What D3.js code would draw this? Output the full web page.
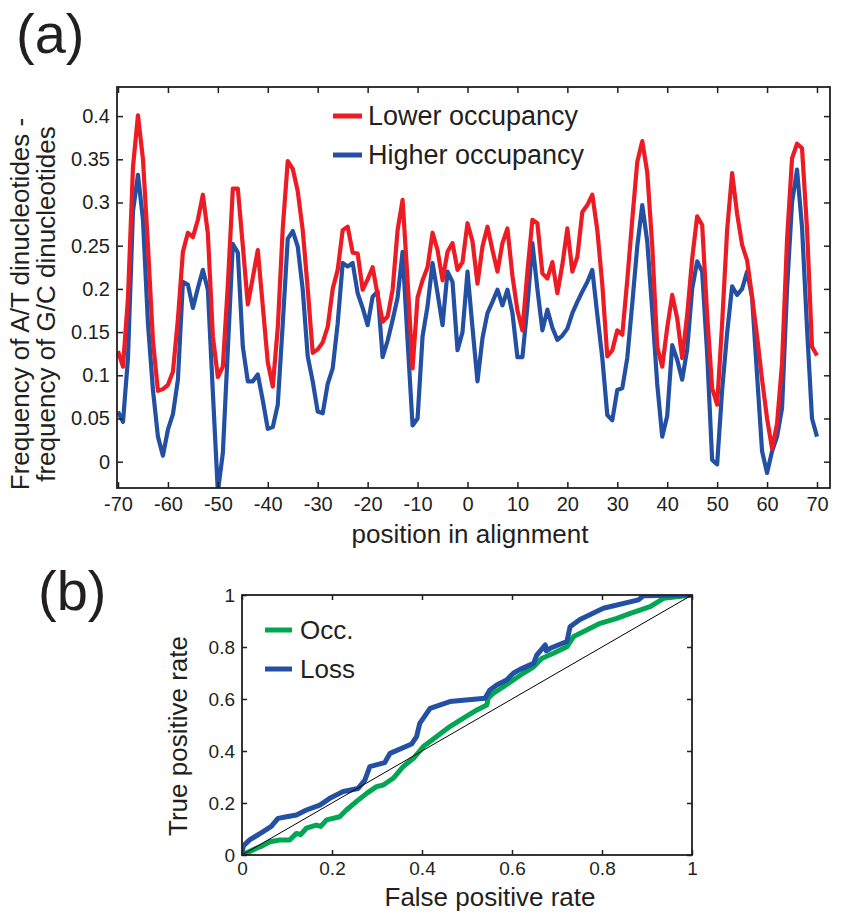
<!DOCTYPE html>
<html>
<head>
<meta charset="utf-8">
<script src="https://cdn.jsdelivr.net/npm/d3@7"></script>
<style>
  body { margin: 0; background: #fff; }
  svg text { font-family: "Liberation Sans", Arial, Helvetica, sans-serif; fill: #231f20; }
</style>
</head>
<body>
<div id="chart"></div>
<script>
// ---- panel (a) data: position in alignment -70..70 ----
var positions = d3.range(-70, 71);

var lowerOcc = [
  0.128, 0.110, 0.190, 0.341, 0.401, 0.350, 0.250, 0.140, 0.082, 0.084,
  0.089, 0.104, 0.165, 0.243, 0.265, 0.260, 0.280, 0.309, 0.264, 0.145,
  0.098, 0.110, 0.205, 0.316, 0.316, 0.250, 0.182, 0.213, 0.245, 0.180,
  0.115, 0.087, 0.155, 0.270, 0.348, 0.339, 0.313, 0.268, 0.200, 0.126,
  0.130, 0.138, 0.156, 0.200, 0.222, 0.268, 0.272, 0.242, 0.241, 0.199,
  0.211, 0.225, 0.193, 0.162, 0.168, 0.199, 0.268, 0.303, 0.210, 0.108,
  0.190, 0.210, 0.225, 0.265, 0.245, 0.210, 0.243, 0.253, 0.222, 0.231,
  0.276, 0.255, 0.206, 0.249, 0.272, 0.245, 0.220, 0.253, 0.270, 0.215,
  0.175, 0.152, 0.220, 0.280, 0.276, 0.218, 0.212, 0.231, 0.195, 0.228,
  0.270, 0.220, 0.237, 0.289, 0.297, 0.309, 0.268, 0.205, 0.122, 0.129,
  0.152, 0.147, 0.210, 0.280, 0.347, 0.371, 0.335, 0.250, 0.133, 0.110,
  0.155, 0.193, 0.166, 0.120, 0.170, 0.235, 0.284, 0.274, 0.170, 0.085,
  0.066, 0.160, 0.268, 0.334, 0.287, 0.251, 0.233, 0.191, 0.145, 0.095,
  0.050, 0.015, 0.044, 0.114, 0.257, 0.351, 0.368, 0.363, 0.270, 0.133,
  0.123
];

var higherOcc = [
  0.058, 0.046, 0.120, 0.290, 0.332, 0.280, 0.160, 0.083, 0.029, 0.007,
  0.037, 0.055, 0.095, 0.208, 0.205, 0.178, 0.201, 0.222, 0.199, 0.080,
  -0.035, 0.010, 0.130, 0.252, 0.242, 0.133, 0.093, 0.093, 0.101, 0.071,
  0.038, 0.040, 0.066, 0.160, 0.258, 0.267, 0.249, 0.199, 0.122, 0.093,
  0.058, 0.056, 0.090, 0.108, 0.160, 0.230, 0.226, 0.230, 0.195, 0.178,
  0.158, 0.191, 0.197, 0.121, 0.140, 0.164, 0.190, 0.243, 0.140, 0.042,
  0.050, 0.145, 0.180, 0.230, 0.195, 0.158, 0.220, 0.208, 0.129, 0.150,
  0.220, 0.155, 0.093, 0.143, 0.172, 0.185, 0.199, 0.181, 0.199, 0.172,
  0.121, 0.121, 0.180, 0.253, 0.200, 0.152, 0.176, 0.155, 0.141, 0.146,
  0.154, 0.172, 0.185, 0.197, 0.208, 0.222, 0.170, 0.120, 0.054, 0.048,
  0.083, 0.085, 0.120, 0.183, 0.249, 0.297, 0.255, 0.175, 0.090, 0.029,
  0.053, 0.135, 0.118, 0.095, 0.130, 0.200, 0.232, 0.220, 0.125, 0.002,
  -0.003, 0.083, 0.149, 0.203, 0.193, 0.200, 0.220, 0.190, 0.100, 0.012,
  -0.013, 0.012, 0.029, 0.062, 0.200, 0.300, 0.338, 0.272, 0.155, 0.050,
  0.029
];

var xTicksA = [-70, -60, -50, -40, -30, -20, -10, 0, 10, 20, 30, 40, 50, 60, 70];
var yTicksA = [0, 0.05, 0.1, 0.15, 0.2, 0.25, 0.3, 0.35, 0.4];

// ---- panel (b) data: ROC curves ----
var occFpr = [0, 0.015, 0.032, 0.045, 0.062, 0.084, 0.106, 0.121, 0.13, 0.143, 0.165, 0.175, 0.188,
  0.217, 0.232, 0.254, 0.277, 0.299, 0.314, 0.336, 0.358, 0.381, 0.403, 0.432, 0.462, 0.492,
  0.522, 0.544, 0.547, 0.559, 0.581, 0.603, 0.625, 0.648, 0.666, 0.692, 0.722, 0.737, 0.766,
  0.796, 0.833, 0.863, 0.907, 0.937, 1];
var occTpr = [0, 0.012, 0.026, 0.035, 0.051, 0.058, 0.058, 0.083, 0.078, 0.103, 0.115, 0.11, 0.135,
  0.147, 0.173, 0.205, 0.237, 0.263, 0.269, 0.295, 0.34, 0.372, 0.417, 0.455, 0.494, 0.526,
  0.558, 0.577, 0.603, 0.622, 0.647, 0.673, 0.699, 0.724, 0.756, 0.776, 0.801, 0.84, 0.865,
  0.891, 0.91, 0.929, 0.955, 0.987, 1];

var lossFpr = [0, 0.003, 0.017, 0.047, 0.065, 0.08, 0.099, 0.121, 0.143, 0.173, 0.195, 0.225, 0.258,
  0.273, 0.284, 0.317, 0.329, 0.377, 0.388, 0.395, 0.418, 0.462, 0.54, 0.551, 0.566, 0.588,
  0.603, 0.618, 0.648, 0.655, 0.674, 0.676, 0.685, 0.722, 0.729, 0.751, 0.803, 0.881, 0.892, 1];
var lossTpr = [0.01, 0.035, 0.058, 0.09, 0.11, 0.141, 0.147, 0.154, 0.173, 0.192, 0.218, 0.244, 0.256,
  0.288, 0.34, 0.355, 0.391, 0.427, 0.455, 0.506, 0.564, 0.59, 0.603, 0.635, 0.654, 0.673,
  0.699, 0.714, 0.737, 0.769, 0.808, 0.785, 0.795, 0.821, 0.878, 0.906, 0.949, 0.981, 0.997, 1];

var rocTicks = [0, 0.2, 0.4, 0.6, 0.8, 1];

var red = "#ed1c24", blue = "#2450a4", green = "#00a651";

var svg = d3.select("#chart").append("svg")
  .attr("width", 848).attr("height", 914);
svg.append("rect").attr("width", 848).attr("height", 914).attr("fill", "#fff");

function fmt(d) { return String(+d.toFixed(2)); }

function styleAxis(g, size) {
  g.select(".domain").remove();
  g.selectAll(".tick line").attr("stroke", "#231f20").attr("stroke-width", 1.5);
  g.selectAll(".tick text").style("font-size", size || "20px")
    .style("font-family", "'Liberation Sans', Arial, sans-serif").attr("fill", "#231f20");
}

// ================= panel (a) =================
var a = { left: 117, right: 830, top: 87, bottom: 488 };

var xA = d3.scaleLinear().domain([-70, 70]).range([118, 817]);
var yA = d3.scaleLinear().domain([0, 0.4]).range([461.7, 116.1]);

svg.append("text").attr("x", 16).attr("y", 53)
  .style("font-size", "56px").text("(a)");

svg.append("clipPath").attr("id", "clipA").append("rect")
  .attr("x", a.left).attr("y", a.top)
  .attr("width", a.right - a.left).attr("height", a.bottom - a.top);

var lineA = d3.line()
  .x(function(d, i) { return xA(positions[i]); })
  .y(function(d) { return yA(d); });

var gA = svg.append("g").attr("clip-path", "url(#clipA)");
gA.append("path").datum(higherOcc)
  .attr("d", lineA).attr("fill", "none").attr("stroke", blue)
  .attr("stroke-width", 4.2).attr("stroke-linejoin", "round");
gA.append("path").datum(lowerOcc)
  .attr("d", lineA).attr("fill", "none").attr("stroke", red)
  .attr("stroke-width", 4.2).attr("stroke-linejoin", "round");

// axes, ticks inside
svg.append("g").attr("transform", "translate(0," + a.bottom + ")")
  .call(d3.axisBottom(xA).tickValues(xTicksA).tickSize(-6).tickPadding(9)
    .tickFormat(function(d) { return String(d); }))
  .call(styleAxis, "20px");
svg.append("g").attr("transform", "translate(0," + a.top + ")")
  .call(d3.axisTop(xA).tickValues(xTicksA).tickSize(-6).tickFormat(""))
  .call(styleAxis);
svg.append("g").attr("transform", "translate(" + a.left + ",0)")
  .call(d3.axisLeft(yA).tickValues(yTicksA).tickSize(-6).tickPadding(7).tickFormat(fmt))
  .call(styleAxis, "20px");
svg.append("g").attr("transform", "translate(" + a.right + ",0)")
  .call(d3.axisRight(yA).tickValues(yTicksA).tickSize(-6).tickFormat(""))
  .call(styleAxis);

svg.append("rect").attr("x", a.left).attr("y", a.top)
  .attr("width", a.right - a.left).attr("height", a.bottom - a.top)
  .attr("fill", "none").attr("stroke", "#231f20").attr("stroke-width", 1.8);

svg.append("text").attr("x", 470).attr("y", 543).attr("text-anchor", "middle")
  .style("font-size", "26px").text("position in alignment");

svg.append("text").attr("transform", "translate(29,304) rotate(-90)")
  .attr("text-anchor", "middle").style("font-size", "26px")
  .text("Frequency of A/T dinucleotides -");
svg.append("text").attr("transform", "translate(55,304) rotate(-90)")
  .attr("text-anchor", "middle").style("font-size", "26px")
  .text("frequency of G/C dinucleotides");

// legend (a)
var legA = [{ label: "Lower occupancy", color: red, y: 116 },
            { label: "Higher occupancy", color: blue, y: 155 }];
legA.forEach(function(l) {
  svg.append("line").attr("x1", 333).attr("x2", 362).attr("y1", l.y).attr("y2", l.y)
    .attr("stroke", l.color).attr("stroke-width", 5);
  svg.append("text").attr("x", 368).attr("y", l.y + 9)
    .style("font-size", "27px").text(l.label);
});

// ================= panel (b) =================
var b = { left: 242, right: 692, top: 595, bottom: 855 };
var xB = d3.scaleLinear().domain([0, 1]).range([b.left, b.right]);
var yB = d3.scaleLinear().domain([0, 1]).range([b.bottom, b.top]);

svg.append("text").attr("x", 38).attr("y", 610)
  .style("font-size", "56px").text("(b)");

svg.append("clipPath").attr("id", "clipB").append("rect")
  .attr("x", b.left).attr("y", b.top)
  .attr("width", b.right - b.left).attr("height", b.bottom - b.top);

var gB = svg.append("g").attr("clip-path", "url(#clipB)");

var occLine = d3.line().x(function(d, i) { return xB(occFpr[i]); }).y(function(d) { return yB(d); });
var lossLine = d3.line().x(function(d, i) { return xB(lossFpr[i]); }).y(function(d) { return yB(d); });

gB.append("path").datum(occTpr).attr("d", occLine)
  .attr("fill", "none").attr("stroke", green).attr("stroke-width", 5)
  .attr("stroke-linejoin", "round");
gB.append("path").datum(lossTpr).attr("d", lossLine)
  .attr("fill", "none").attr("stroke", blue).attr("stroke-width", 5)
  .attr("stroke-linejoin", "round");
gB.append("line").attr("x1", xB(0)).attr("y1", yB(0)).attr("x2", xB(1)).attr("y2", yB(1))
  .attr("stroke", "#000").attr("stroke-width", 1);

svg.append("g").attr("transform", "translate(0," + b.bottom + ")")
  .call(d3.axisBottom(xB).tickValues(rocTicks).tickSize(-5).tickPadding(7).tickFormat(fmt))
  .call(styleAxis, "19px");
svg.append("g").attr("transform", "translate(0," + b.top + ")")
  .call(d3.axisTop(xB).tickValues(rocTicks).tickSize(-5).tickFormat(""))
  .call(styleAxis);
svg.append("g").attr("transform", "translate(" + b.left + ",0)")
  .call(d3.axisLeft(yB).tickValues(rocTicks).tickSize(-5).tickPadding(7).tickFormat(fmt))
  .call(styleAxis, "19px");
svg.append("g").attr("transform", "translate(" + b.right + ",0)")
  .call(d3.axisRight(yB).tickValues(rocTicks).tickSize(-5).tickFormat(""))
  .call(styleAxis);

svg.append("rect").attr("x", b.left).attr("y", b.top)
  .attr("width", b.right - b.left).attr("height", b.bottom - b.top)
  .attr("fill", "none").attr("stroke", "#231f20").attr("stroke-width", 1.8);

svg.append("text").attr("x", 490).attr("y", 906).attr("text-anchor", "middle")
  .style("font-size", "26px").text("False positive rate");
svg.append("text").attr("transform", "translate(187,736) rotate(-90)")
  .attr("text-anchor", "middle").style("font-size", "26px").text("True positive rate");

var legB = [{ label: "Occ.", color: green, y: 630 },
            { label: "Loss", color: blue, y: 669 }];
legB.forEach(function(l) {
  svg.append("line").attr("x1", 265).attr("x2", 292).attr("y1", l.y).attr("y2", l.y)
    .attr("stroke", l.color).attr("stroke-width", 5);
  svg.append("text").attr("x", 300).attr("y", l.y + 9)
    .style("font-size", "26px").text(l.label);
});
</script>
</body>
</html>
